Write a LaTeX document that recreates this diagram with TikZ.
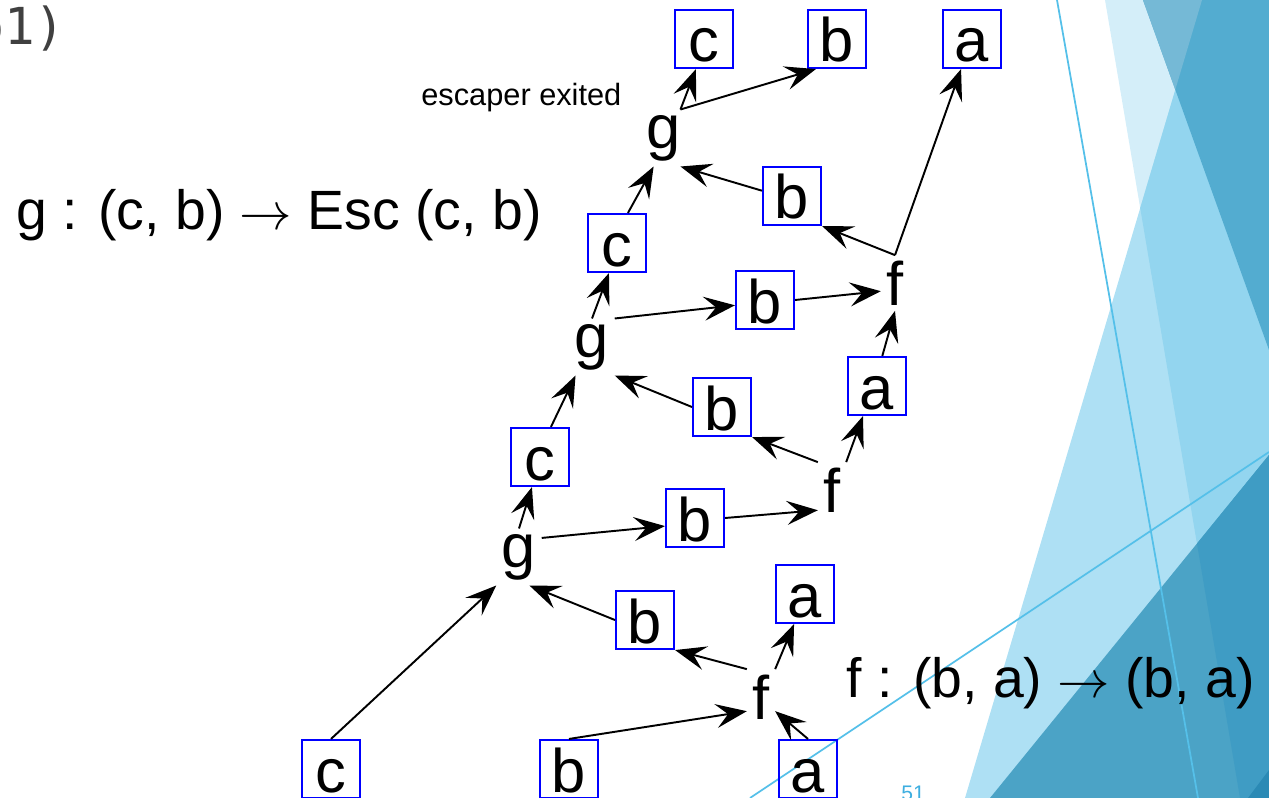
\documentclass[tikz,border=0pt]{standalone}
\usepackage{fontspec}
\setmainfont{Liberation Sans}
\newfontfamily\codefont{DejaVu Sans Mono}
\usetikzlibrary{arrows.meta}

\definecolor{symblue}{RGB}{0,0,255}
\definecolor{codegray}{HTML}{404040}
\definecolor{pagenum}{HTML}{3DAEE0}
\definecolor{facetpale}{HTML}{D4EEF9}
\definecolor{facetlight}{HTML}{AEE0F4}
\definecolor{facetmid}{HTML}{93D5EF}
\definecolor{facetdeep}{HTML}{53ACD0}
\definecolor{facetshade}{HTML}{75B9D6}
\definecolor{facetsea}{HTML}{4BA3C6}
\definecolor{facetocean}{HTML}{3F9CC4}
\definecolor{facetdark}{HTML}{2B8AB5}
\definecolor{facetline}{HTML}{55C0E9}

\newcommand{\maparrow}{\scalebox{1.2}{$\rightarrow$}}

\begin{document}
\begin{tikzpicture}[
  x=0.2mm, y=-0.2mm,
  >={Stealth[length=0.62cm, width=0.48cm, inset=0.24cm]},
  sym/.style={draw=symblue, line width=1.2pt, minimum width=1.16cm, inner xsep=0pt, inner ysep=0pt, text height=1.04cm, text depth=0.12cm, font=\fontsize{35}{35}\selectfont},
  fn/.style={inner sep=3pt, font=\fontsize{35}{35}\selectfont},
  note/.style={anchor=base west, inner sep=0pt, font=\fontsize{31.5}{31.5}\selectfont},
  arr/.style={->, line width=1.1pt}
]
\useasboundingbox (0,0) rectangle (1269,798);
\clip (0,0) rectangle (1269,798);

\fill[facetpale] (1105,0) -- (1240,798) -- (1269,798) -- (1269,0) -- cycle;
\fill[facetlight] (1202,0) -- (965,798) -- (1269,798) -- (1269,0) -- cycle;
\begin{scope}
  \clip (1105,0) -- (1240,798) -- (1269,798) -- (1269,0) -- cycle;
  \fill[facetmid] (1202,0) -- (965,798) -- (1269,798) -- (1269,0) -- cycle;
\end{scope}
\fill[facetdeep] (1143,0) -- (1269,350) -- (1269,0) -- cycle;
\begin{scope}
  \clip (1143,0) -- (1269,350) -- (1269,0) -- cycle;
  \fill[facetshade] (1105,0) -- (1202,0) -- (1140,208) -- cycle;
\end{scope}
\fill[facetsea] (1269,455) -- (990,798) -- (1269,798) -- cycle;
\begin{scope}
  \clip (1269,455) -- (990,798) -- (1269,798) -- cycle;
  \fill[facetocean] (1105,0) -- (1240,798) -- (1269,798) -- (1269,0) -- cycle;
\end{scope}
\fill[facetdark] (1248,798) -- (1269,798) -- (1269,770) -- cycle;
\draw[facetline, line width=1pt] (1057,0) -- (1198,798);
\draw[facetline, line width=1pt] (750,798) -- (1269,452);

\node[anchor=base east, inner sep=0pt, font=\codefont\fontsize{29}{29}\selectfont, text=codegray] (code_tail) at (66,45) {b1)};
\node[anchor=base west, inner sep=0pt, font=\fontsize{12}{12}\selectfont, text=pagenum] (page_no) at (901,800) {51};

\node[note] (sig_g) at (16,230) {g : (c, b) \maparrow\ Esc (c, b)};
\node[note] (sig_f) at (846,697) {f : (b, a) \maparrow\ (b, a)};
\node[anchor=base west, inner sep=0pt, font=\fontsize{17.5}{17.5}\selectfont] (esc_note) at (421,106) {escaper exited};

\node[sym] (c_in) at (331,769) {c};
\node[sym] (b_in) at (569,769) {b};
\node[sym] (a_in) at (808,769) {a};

\node[fn] (f_1) at (761,697) {f};
\node[fn] (g_1) at (519,557) {g};
\node[sym] (b_g1) at (645,620) {b};
\node[sym] (a_f1) at (805,594) {a};
\node[sym] (c_g1) at (540,457) {c};
\node[sym] (b_f1) at (695,518) {b};

\node[fn] (f_2) at (832,490) {f};
\node[fn] (g_2) at (592,347) {g};
\node[sym] (b_g2) at (722,407) {b};
\node[sym] (a_f2) at (877,386) {a};
\node[sym] (c_g2) at (617,243) {c};
\node[sym] (b_f2) at (765,300) {b};

\node[fn] (f_3) at (895,283) {f};
\node[fn] (g_3) at (664,138) {g};
\node[sym] (b_g3) at (792,196) {b};

\node[sym] (c_out) at (704,39) {c};
\node[sym] (b_out) at (837,39) {b};
\node[sym] (a_out) at (972,39) {a};

\draw[arr] (c_in.north) -- (g_1.south west);
\draw[arr] (b_in.north) -- (f_1.-135);
\draw[arr] (a_in.north) -- (f_1.-45);
\draw[arr] (f_1.north west) -- (b_g1.south east);
\draw[arr] (f_1.north east) -- (a_f1.-110);
\draw[arr] (b_g1.west) -- (g_1.-70);
\draw[arr] (g_1.north) -- (c_g1.-105);
\draw[arr] (g_1.40) -- (b_f1.-165);
\draw[arr] (b_f1.east) -- (f_2.-125);
\draw[arr] (f_2.north east) -- (a_f2.-115);
\draw[arr] (f_2.north west) -- (b_g2.south east);
\draw[arr] (b_g2.west) -- (g_2.south east);
\draw[arr] (c_g1.70) -- (g_2.-120);
\draw[arr] (g_2.north) -- (c_g2.-105);
\draw[arr] (g_2.north east) -- (b_f2.-170);
\draw[arr] (b_f2.east) -- (f_3.-150);
\draw[arr] (a_f2.80) -- (f_3.south);
\draw[arr] (c_g2.70) -- (g_3.-110);
\draw[arr] (f_3.north) -- (b_g3.south east);
\draw[arr] (f_3.north) -- (a_out.-110);
\draw[arr] (b_g3.170) -- (g_3.-60);
\draw[arr] (g_3.60) -- (c_out.-105);
\draw[arr] (g_3.60) -- (b_out.-125);
\end{tikzpicture}
\end{document}
